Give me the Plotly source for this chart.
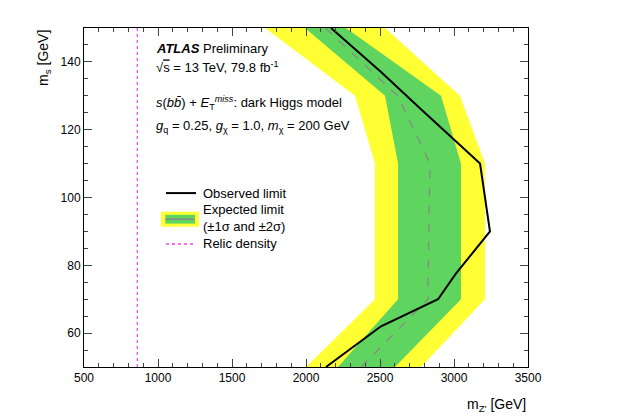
import plotly.graph_objects as go

ms = [50, 70, 110, 130, 150]
y2_left = [2000, 2466, 2466, 2331, 1723]
y2_right = [2777, 3209, 3209, 3040, 2534]
g1_left = [2216, 2622, 2622, 2534, 1993]
g1_right = [2601, 3047, 3047, 2912, 2270]
exp_ms = [50, 70, 90, 110, 130, 150]
exp_mz = [2372, 2824, 2830, 2838, 2620, 2130]
obs_ms = [50, 62, 70, 77.6, 90, 110, 126, 137, 150]
obs_mz = [2135, 2507, 2892, 3014, 3243, 3176, 2777, 2507, 2169]
relic_mz = 860

fig = go.Figure()
def band(l, r, col):
    fig.add_trace(go.Scatter(x=l + r[::-1], y=ms + ms[::-1], fill="toself", fillcolor=col,
                             line=dict(width=0), mode="lines", hoverinfo="skip"))
band(y2_left, y2_right, "#ffff33")
band(g1_left, g1_right, "#5fd45f")
fig.add_trace(go.Scatter(x=exp_mz, y=exp_ms, mode="lines", line=dict(color="#888", width=1.2, dash="dash")))
fig.add_trace(go.Scatter(x=obs_mz, y=obs_ms, mode="lines", line=dict(color="black", width=2)))
fig.add_trace(go.Scatter(x=[relic_mz, relic_mz], y=[50, 150], mode="lines", line=dict(color="#ee44ee", width=1.2, dash="dot")))

F = "Liberation Sans, Arial, sans-serif"
def txt(x, y, t, s=13):
    fig.add_annotation(x=x, y=y, xref="x", yref="y", text=t, showarrow=False, xanchor="left",
                       font=dict(family=F, size=s, color="black"))
txt(970, 144, "<b><i>ATLAS</i></b> Preliminary")
txt(970, 138.5, "√<span style='text-decoration:overline'>s</span> = 13 TeV, 79.8 fb<sup>-1</sup>")
txt(970, 128, "<i>s</i>(<i>b</i><i>b̄</i>) + <i>E</i><sub>T</sub><sup><i>miss</i></sup>: dark Higgs model")
txt(970, 121, "<i>g</i><sub>q</sub> = 0.25, <i>g</i><sub>χ</sub> = 1.0, <i>m</i><sub>χ</sub> = 200 GeV")
txt(1290, 101.3, "Observed limit")
txt(1290, 96.5, "Expected limit")
txt(1290, 91.5, "(±1σ and ±2σ)")
txt(1290, 86.3, "Relic density")

fig.add_shape(type="line", x0=1054, x1=1257, y0=101.3, y1=101.3, line=dict(color="black", width=2))
fig.add_shape(type="rect", x0=1020, x1=1277, y0=91.4, y1=95.8, fillcolor="#ffff33", line=dict(width=0))
fig.add_shape(type="rect", x0=1050, x1=1250, y0=92.3, y1=94.9, fillcolor="#5fd45f", line=dict(width=0))
fig.add_shape(type="line", x0=1050, x1=1250, y0=93.6, y1=93.6, line=dict(color="#888", width=1.5))
fig.add_shape(type="line", x0=1054, x1=1257, y0=86.3, y1=86.3, line=dict(color="#ee44ee", width=1.5, dash="dot"))

ax = dict(showgrid=False, zeroline=False, mirror="allticks", ticks="inside", showline=True,
          linecolor="black", linewidth=1, tickfont=dict(family=F, size=12, color="black"), minor=dict(ticks="inside", ticklen=4))
fig.update_layout(width=638, height=420, margin=dict(l=76, r=118, t=20, b=61),
                  plot_bgcolor="white", paper_bgcolor="white", showlegend=False,
                  xaxis=dict(range=[500, 3500], dtick=500, ticklen=8, minor_dtick=100, **ax),
                  yaxis=dict(range=[50, 150], dtick=20, ticklen=8, minor_dtick=5, **ax))
fig.add_annotation(x=1, y=-0.08, xref="paper", yref="paper", xanchor="right", yanchor="top", showarrow=False,
                   text="m<sub>Z'</sub> [GeV]", font=dict(family=F, size=14, color="black"))
fig.add_annotation(x=-0.115, y=1, xref="paper", yref="paper", yanchor="top", showarrow=False, textangle=-90,
                   text="m<sub>s</sub> [GeV]", font=dict(family=F, size=14, color="black"))
fig.write_html("out.html")
